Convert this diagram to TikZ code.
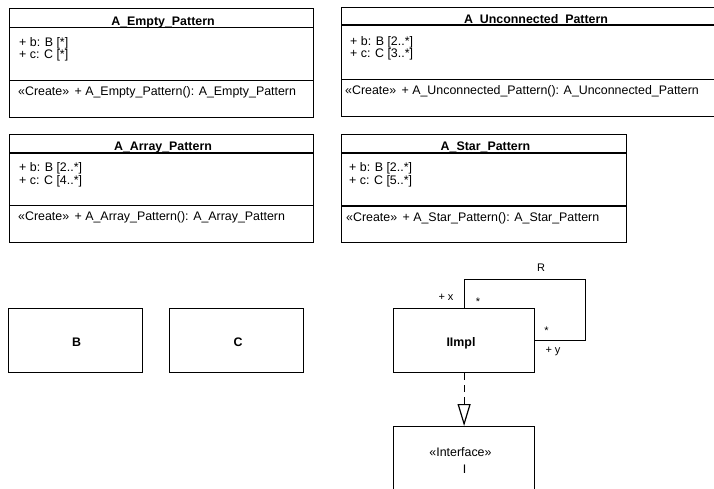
\documentclass[tikz,border=0pt]{standalone}
\usepackage{fontspec}
\setmainfont{Liberation Sans}
\usetikzlibrary{arrows.meta,positioning}

\tikzset{
  classbox/.style={draw, line width=1.2pt, inner sep=0pt, anchor=north west},
  classtitle/.style={font=\fontsize{12.4}{14}\selectfont\bfseries, inner sep=0pt, anchor=base},
  member/.style={font=\fontsize{12.4}{14}\selectfont, inner sep=0pt, anchor=base west},
  plaintext/.style={font=\fontsize{12.4}{14}\selectfont, inner sep=0pt, anchor=base},
  rolelabel/.style={font=\fontsize{11}{13}\selectfont, inner sep=0pt, anchor=base},
  assoc/.style={line width=1pt},
  realizes/.style={line width=1.2pt, dash pattern=on 7pt off 5pt,
    -{Triangle[open, length=22pt, width=13pt, line width=1.2pt]}},
}

\begin{document}
\begin{tikzpicture}[x=1pt, y=-1pt]
        \useasboundingbox (0,0) rectangle (714,488);

        % A_Empty_Pattern
        \node[classbox, minimum width=304pt, minimum height=109pt] (empty) at (9,8) {};
        \draw[line width=1.2pt] (empty.north west) ++(0,19.5) -- ++(304,0);
        \draw[line width=1.2pt] (empty.north west) ++(0,72.5) -- ++(304,0);
        \node[classtitle] (emptyT) at (163,25) {A\_Empty\_Pattern};
        \node[member] (emptyB) at (19,46) {+ b: B [*]};
        \node[member] (emptyC) at (19,58.5) {+ c: C [*]};
        \node[member] (emptyM) at (18,95.3) {«Create»\hspace{2pt} + A\_Empty\_Pattern(): A\_Empty\_Pattern};

        % A_Unconnected_Pattern (cut by the right edge)
        \node[classbox, minimum width=387pt, minimum height=109pt] (uncon) at (341,6.5) {};
        \draw[line width=1.2pt] (uncon.north west) ++(0,18.5) -- ++(387,0);
        \draw[line width=1.2pt] (uncon.north west) ++(0,73) -- ++(387,0);
        \node[classtitle] (unconT) at (536,23.8) {A\_Unconnected\_Pattern};
        \node[member] (unconB) at (350,45) {+ b: B [2..*]};
        \node[member] (unconC) at (350,57.5) {+ c: C [3..*]};
        \node[member] (unconM) at (345,94.5) {«Create»\hspace{2pt} + A\_Unconnected\_Pattern(): A\_Unconnected\_Pattern};

        % A_Array_Pattern
        \node[classbox, minimum width=304pt, minimum height=108pt] (array) at (9,134) {};
        \draw[line width=1.2pt] (array.north west) ++(0,19) -- ++(304,0);
        \draw[line width=1.2pt] (array.north west) ++(0,71.5) -- ++(304,0);
        \node[classtitle] (arrayT) at (163,150.8) {A\_Array\_Pattern};
        \node[member] (arrayB) at (19,171.5) {+ b: B [2..*]};
        \node[member] (arrayC) at (19,184) {+ c: C [4..*]};
        \node[member] (arrayM) at (18,220.3) {«Create»\hspace{2pt} + A\_Array\_Pattern(): A\_Array\_Pattern};

        % A_Star_Pattern
        \node[classbox, minimum width=285pt, minimum height=108.5pt] (star) at (341,133.5) {};
        \draw[line width=1.2pt] (star.north west) ++(0,19.5) -- ++(285,0);
        \draw[line width=1.2pt] (star.north west) ++(0,72.5) -- ++(285,0);
        \node[classtitle] (starT) at (485.5,150.8) {A\_Star\_Pattern};
        \node[member] (starB) at (349,171.5) {+ b: B [2..*]};
        \node[member] (starC) at (349,184) {+ c: C [5..*]};
        \node[member] (starM) at (346,221) {«Create»\hspace{2pt} + A\_Star\_Pattern(): A\_Star\_Pattern};

        % B, C and IImpl
        \node[classbox, minimum width=134pt, minimum height=64pt] (b) at (8,308) {};
        \node[classtitle] (bT) at (76.5,346) {B};
        \node[classbox, minimum width=134pt, minimum height=64pt] (c) at (169,308) {};
        \node[classtitle] (cT) at (238,346) {C};
        \node[classbox, minimum width=141pt, minimum height=64pt] (impl) at (393,308) {};
        \node[classtitle] (implT) at (461,346) {IImpl};

        % Interface I (cut by the bottom edge)
        \node[classbox, minimum width=141pt, minimum height=80pt] (iface) at (393,426) {};
        \node[plaintext] (ifaceS) at (460.5,456.5) {«Interface»};
        \node[plaintext] (ifaceT) at (464.5,473) {I};

        % Self association R
        \coordinate (loopR) at (585,279);
        \draw[assoc] (impl.north) |- (loopR) |- (impl.east);
        \node[rolelabel] (lblR) at (541,271.3) {R};
        \node[rolelabel] (lblX) at (446,300.7) {+ x};
        \node[rolelabel] (lblXm) at (478,305) {*};
        \node[rolelabel] (lblYm) at (546.5,334.5) {*};
        \node[rolelabel] (lblY) at (553,353.5) {+ y};

        % Realization
        \draw[realizes] (impl.south) -- (iface.north);

        \end{tikzpicture}
\end{document}
